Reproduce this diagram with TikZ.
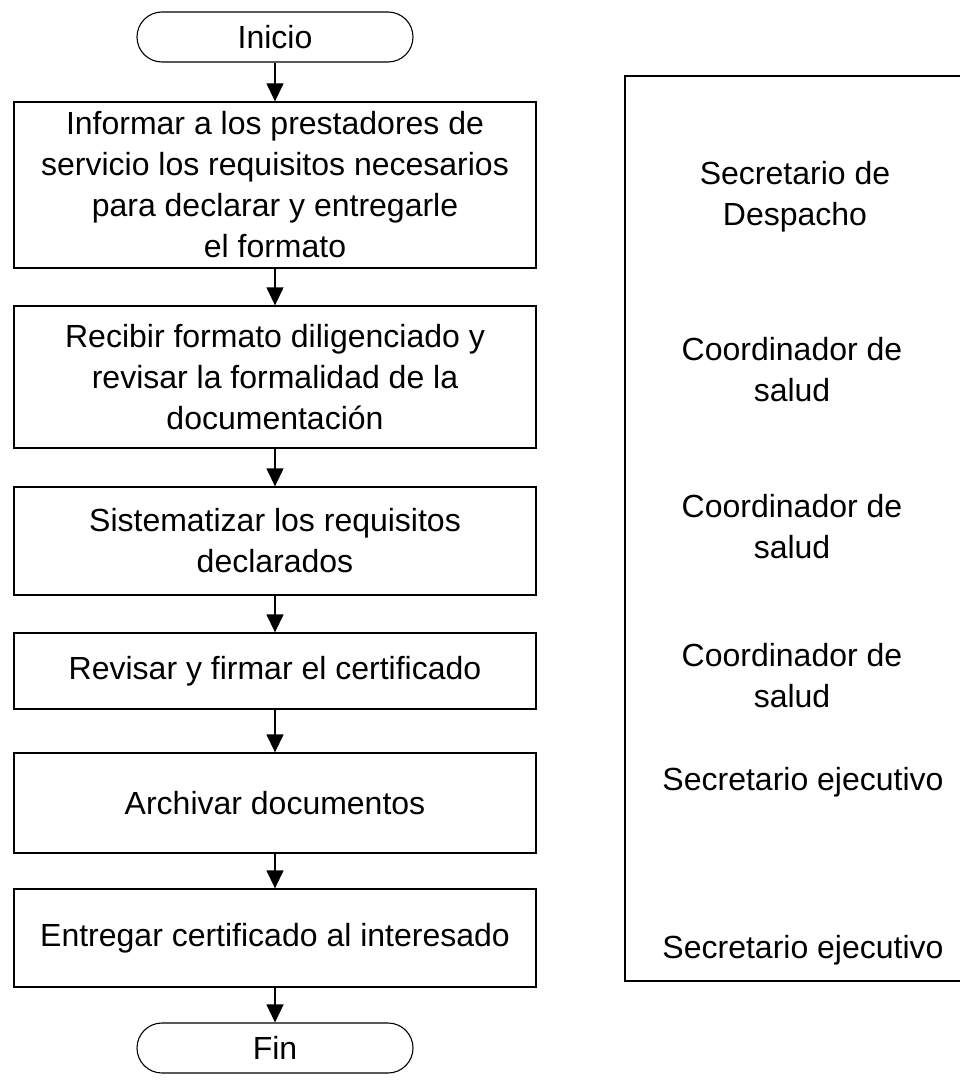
\documentclass[tikz,border=0pt]{standalone}
\usepackage{fontspec}
\setmainfont{Liberation Sans}
\usetikzlibrary{arrows.meta}
\begin{document}
\begin{tikzpicture}[x=1pt,y=-1pt,
  txt/.style={font=\fontsize{32pt}{41pt}\selectfont, align=center},
  procbox/.style={txt, draw, line width=1.3pt, minimum width=522pt, inner sep=0pt},
  term/.style={txt, draw, line width=1.1pt, rounded corners=25pt, minimum width=276pt, minimum height=50pt, inner sep=0pt},
  flow/.style={line width=1.3pt, -{Triangle[width=17pt,length=18pt]}},
  role/.style={txt}
]
\useasboundingbox (0,0) rectangle (960,1086);
\clip (0,0) rectangle (960,1086);

\node[term] (ini) at (275,37) {Inicio};
\node[procbox, minimum height=166pt] (b1) at (275,185) {Informar a los prestadores de\\servicio los requisitos necesarios\\para declarar y entregarle\\el formato};
\node[procbox, minimum height=142pt] (b2) at (275,377) {Recibir formato diligenciado y\\revisar la formalidad de la\\documentación};
\node[procbox, minimum height=108pt] (b3) at (275,541) {Sistematizar los requisitos\\declarados};
\node[procbox, minimum height=76pt] (b4) at (275,671) {Revisar y firmar el certificado};
\node[procbox, minimum height=100pt] (b5) at (275,803) {Archivar documentos};
\node[procbox, minimum height=98pt] (b6) at (275,938) {Entregar certificado al interesado};
\node[term] (fin) at (275,1048) {Fin};

\draw[flow] (ini) -- (b1);
\draw[flow] (b1) -- (b2);
\draw[flow] (b2) -- (b3);
\draw[flow] (b3) -- (b4);
\draw[flow] (b4) -- (b5);
\draw[flow] (b5) -- (b6);
\draw[flow] (b6) -- (fin);

\node[draw, line width=1.3pt, minimum width=350pt, minimum height=905pt, inner sep=0pt] (roles) at (800,528.5) {};
\node[role] (r1) at (795,197) {Secretario de\\Despacho};
\node[role] (r2) at (792,370) {Coordinador de\\salud};
\node[role] (r3) at (792,527) {Coordinador de\\salud};
\node[role] (r4) at (792,676) {Coordinador de\\salud};
\node[role] (r5) at (803,782) {Secretario ejecutivo};
\node[role] (r6) at (803,950) {Secretario ejecutivo};
\end{tikzpicture}
\end{document}
